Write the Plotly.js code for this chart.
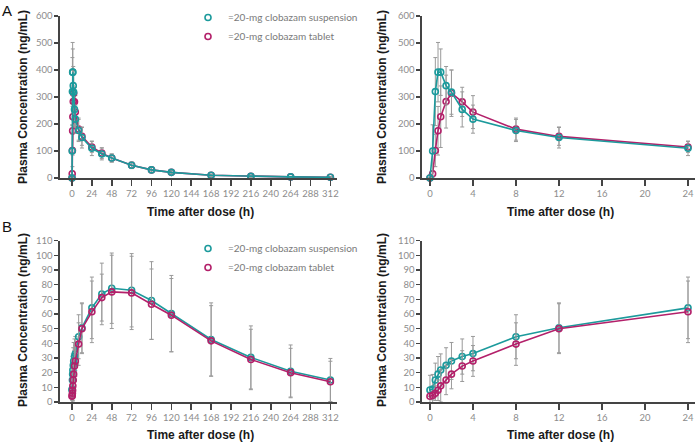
<!DOCTYPE html>
<html>
<head>
<meta charset="utf-8">
<script src="https://cdn.plot.ly/plotly-3.0.1.min.js"></script>
<style>html,body{margin:0;padding:0;background:#fff;}#chart{width:695px;height:442px;}</style>
</head>
<body>
<div id="chart"></div>
<script>
// Time points (h)
const timeH = [0,0.25,0.5,0.75,1,1.5,2,3,4,8,12,24,36,48,72,96,120,168,216,264,312];
const nEarly = 12; // points up to 24 h

// Panel A: clobazam (ng/mL)
const suspA = [0,100,320,392,392,342,318,254,218,176,150,110,89,74,47,30,21,10,6,4,2.5];
const tabA  = [0,16,102,175,227,283,314,282,244,181,154,115,92,74,47,30,21,10,6,4,2.5];
const suspA_sd = [0,97,126,110,86,71,82,65,52,41,39,27,22,15,12,9,6,4,3,2,2];
const tabA_sd  = [0,10,60,90,114,98,86,54,61,41,33,20,20,15,12,9,6,4,3,2,2];

// Panel B: N-desmethylclobazam (ng/mL)
const suspB = [8.2,8.8,15,19,21.8,25,28,31,33,44.5,50.6,64.2,73.7,77.6,76.2,69.2,60.3,42.6,30.4,20.9,15];
const tabB  = [3.9,4.5,6,8,11,15,19,24.5,28,39.5,50,61.5,71.2,75.1,74.4,66.7,59.2,41.7,29,20,13.8];
const suspB_sd = [10,10,11.5,12,11,12,12.6,12,11.7,15,17,21,21,24,25,26.5,26,25,21.5,18,14.7];
const tabB_sd  = [0,3,5,7,11,10,10,10.5,10.5,14.5,17,21,16,25,25,24,25,24,20.6,16.6,14];

const seriesNames = ['=20-mg clobazam suspension','=20-mg clobazam tablet'];
const ticksLong = [0,24,48,72,96,120,144,168,192,216,240,264,288,312];
const ticksShort = [0,4,8,12,16,20,24];
const xTitle = 'Time after dose (h)';
const yTitle = 'Plasma Concentration (ng/mL)';

const TEAL = '#1c9a9c';
const MAG = '#b3206a';
const ERR = '#9a9a9a';

function tr(x, y, sd, color, xa, ya) {
  return {
    x: x, y: y, xaxis: xa, yaxis: ya, type: 'scatter', mode: 'lines+markers',
    line: {color: color, width: 1.6},
    marker: {symbol: 'circle-open', size: 6, color: color, line: {width: 1.6, color: color}},
    error_y: {type: 'data', array: sd, visible: true, color: ERR, thickness: 1, width: 2},
    cliponaxis: false, showlegend: false, hoverinfo: 'skip'
  };
}
function legTr(name, color, leg) {
  return {
    x: [null], y: [null], xaxis: 'x', yaxis: 'y', type: 'scatter', mode: 'markers', name: name,
    marker: {symbol: 'circle-open', size: 6, color: color, line: {width: 1.6, color: color}},
    showlegend: true, legend: leg
  };
}
const e = a => a.slice(0, nEarly);

const data = [
  tr(timeH, tabA, tabA_sd, MAG, 'x', 'y'),
  tr(timeH, suspA, suspA_sd, TEAL, 'x', 'y'),
  tr(e(timeH), e(tabA), e(tabA_sd), MAG, 'x2', 'y2'),
  tr(e(timeH), e(suspA), e(suspA_sd), TEAL, 'x2', 'y2'),
  tr(timeH, suspB, suspB_sd, TEAL, 'x3', 'y3'),
  tr(timeH, tabB, tabB_sd, MAG, 'x3', 'y3'),
  tr(e(timeH), e(suspB), e(suspB_sd), TEAL, 'x4', 'y4'),
  tr(e(timeH), e(tabB), e(tabB_sd), MAG, 'x4', 'y4'),
  legTr(seriesNames[0], TEAL, 'legend'),
  legTr(seriesNames[1], MAG, 'legend'),
  legTr(seriesNames[0], TEAL, 'legend2'),
  legTr(seriesNames[1], MAG, 'legend2')
];

const tickFont = {family: 'Lato, sans-serif', size: 9.5, color: '#8c8c8c'};
const titleFont = {family: 'Liberation Sans, Arial, sans-serif', size: 12, color: '#1a1a1a', weight: 'bold'};

function xax(domain, range, tickvals, anchor) {
  return {
    domain: domain, range: range, anchor: anchor, tickvals: tickvals, tickangle: 0,
    showline: true, linecolor: '#444', linewidth: 1.6, ticks: 'outside', ticklen: 6, tickwidth: 1.6, tickcolor: '#444',
    showgrid: false, zeroline: false, tickfont: tickFont, ticklabeloverflow: 'allow'
  };
}
function yax(domain, range, dtick, anchor) {
  return {
    domain: domain, range: range, anchor: anchor, dtick: dtick, tick0: 0,
    showline: true, linecolor: '#444', linewidth: 1.6, ticks: 'outside', ticklen: 4, tickwidth: 1.4, tickcolor: '#444',
    showgrid: false, zeroline: false, tickfont: tickFont, ticklabeloverflow: 'allow'
  };
}

const W = 695, H = 442;
const px = v => v / W, py = v => 1 - v / H;

const legendFont = {family: 'Lato, sans-serif', size: 10, color: '#7a7a7a'};

function xTitleAnn(cx, cy) {
  return {text: xTitle, xref: 'paper', yref: 'paper', x: px(cx), y: py(cy), xanchor: 'center', yanchor: 'middle',
          showarrow: false, font: titleFont};
}
function yTitleAnn(cx, cy) {
  return {text: yTitle, xref: 'paper', yref: 'paper', x: px(cx), y: py(cy), xanchor: 'center', yanchor: 'middle',
          textangle: -90, showarrow: false, font: titleFont};
}

const layout = {
  width: W, height: H, autosize: false,
  margin: {l: 0, r: 0, t: 0, b: 0},
  paper_bgcolor: '#fff', plot_bgcolor: '#fff',
  showlegend: true,
  xaxis: xax([px(60), px(337)], [-14.5, 320], ticksLong, 'y'),
  yaxis: yax([py(178), py(16)], [0, 600], 100, 'x'),
  xaxis2: xax([px(422), px(695)], [-0.74, 24.65], ticksShort, 'y2'),
  yaxis2: yax([py(178), py(16)], [0, 600], 100, 'x2'),
  xaxis3: xax([px(60), px(337)], [-14.5, 320], ticksLong, 'y3'),
  yaxis3: yax([py(402), py(240.7)], [0, 110], 10, 'x3'),
  xaxis4: xax([px(422), px(695)], [-0.74, 24.65], ticksShort, 'y4'),
  yaxis4: yax([py(402), py(240.7)], [0, 110], 10, 'x4'),
  legend: {x: px(188), y: py(3), xanchor: 'left', yanchor: 'top', bgcolor: 'rgba(0,0,0,0)',
           font: legendFont, itemwidth: 30, tracegroupgap: 0},
  legend2: {x: px(188), y: py(234), xanchor: 'left', yanchor: 'top', bgcolor: 'rgba(0,0,0,0)',
           font: legendFont, itemwidth: 30, tracegroupgap: 0},
  annotations: [
    {text: 'A', xref: 'paper', yref: 'paper', x: px(0), y: py(0), xanchor: 'left', yanchor: 'top', showarrow: false,
     font: {family: 'Liberation Sans, Arial, sans-serif', size: 15, color: '#111'}},
    {text: 'B', xref: 'paper', yref: 'paper', x: px(0), y: py(216), xanchor: 'left', yanchor: 'top', showarrow: false,
     font: {family: 'Liberation Sans, Arial, sans-serif', size: 15, color: '#111'}},
    xTitleAnn(200, 212), xTitleAnn(560, 212), xTitleAnn(200, 435), xTitleAnn(560, 435),
    yTitleAnn(23, 97), yTitleAnn(382, 97), yTitleAnn(23, 320), yTitleAnn(382, 320)
  ]
};

Plotly.newPlot('chart', data, layout, {displayModeBar: false, staticPlot: true});
</script>
</body>
</html>
